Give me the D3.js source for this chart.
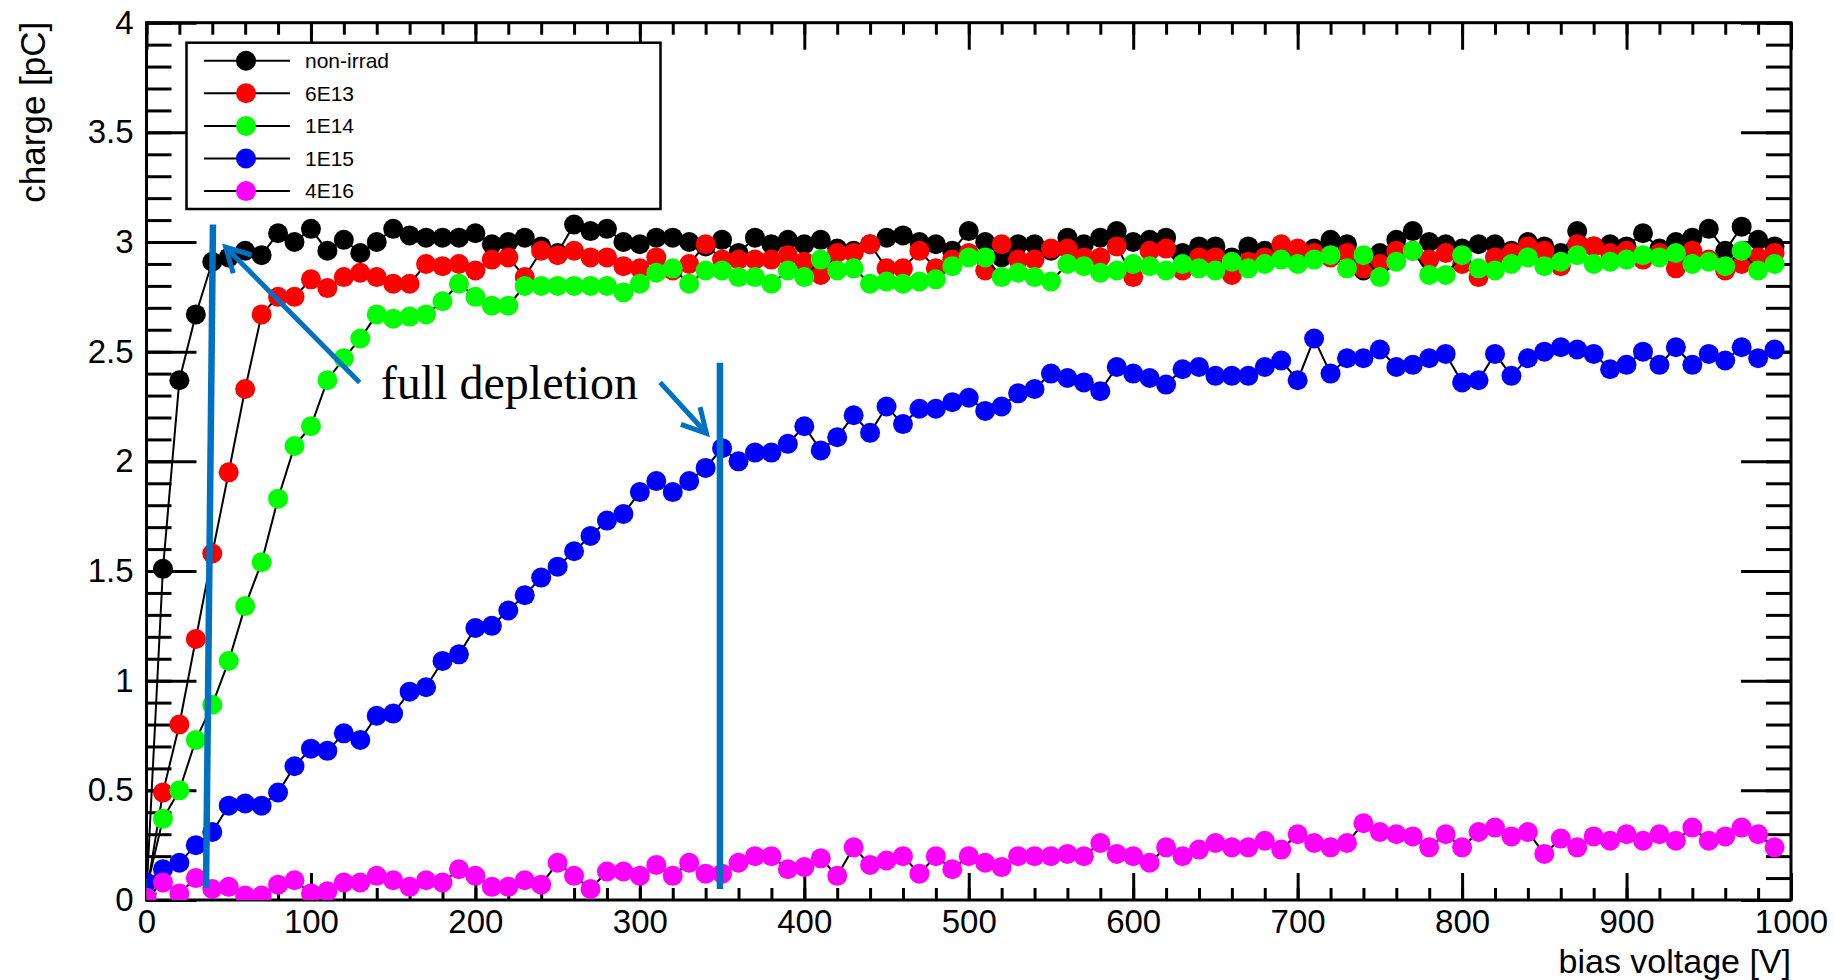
<!DOCTYPE html>
<html>
<head>
<meta charset="utf-8">
<script src="https://cdn.jsdelivr.net/npm/d3@7"></script>
<style>
  html, body { margin: 0; padding: 0; background: #fff; }
  svg { display: block; }
  .axis text { font-family: "Liberation Sans", Arial, sans-serif; font-size: 33px; fill: #000; }
  .title { font-family: "Liberation Sans", Arial, sans-serif; font-size: 35px; fill: #000; }
  .legend text { font-family: "Liberation Sans", Arial, sans-serif; font-size: 21px; fill: #000; }
</style>
</head>
<body>
<svg id="chart" width="1835" height="980"></svg>
<script>
// bias voltage [V] of every measurement
var voltage = [
  0, 10, 20, 30, 40, 50, 60, 70, 80, 90,
  100, 110, 120, 130, 140, 150, 160, 170, 180, 190,
  200, 210, 220, 230, 240, 250, 260, 270, 280, 290,
  300, 310, 320, 330, 340, 350, 360, 370, 380, 390,
  400, 410, 420, 430, 440, 450, 460, 470, 480, 490,
  500, 510, 520, 530, 540, 550, 560, 570, 580, 590,
  600, 610, 620, 630, 640, 650, 660, 670, 680, 690,
  700, 710, 720, 730, 740, 750, 760, 770, 780, 790,
  800, 810, 820, 830, 840, 850, 860, 870, 880, 890,
  900, 910, 920, 930, 940, 950, 960, 970, 980, 990
];

// collected charge [pC] per fluence
var nonIrrad = [
  0.03, 1.51, 2.37, 2.67, 2.91, 2.93, 2.96, 2.94, 3.04, 3.00,
  3.06, 2.96, 3.01, 2.95, 3.00, 3.06, 3.03, 3.02, 3.02, 3.02,
  3.04, 2.99, 3.00, 3.02, 2.98, 2.95, 3.08, 3.05, 3.06, 3.00,
  2.99, 3.02, 3.02, 3.00, 2.98, 3.01, 2.95, 3.02, 2.99, 3.01,
  2.99, 3.01, 2.97, 2.96, 2.99, 3.02, 3.03, 3.00, 2.99, 2.96,
  3.05, 3.00, 2.93, 2.99, 2.99, 2.96, 3.02, 2.99, 3.02, 3.05,
  3.00, 3.01, 3.02, 2.95, 2.98, 2.98, 2.93, 2.98, 2.96, 2.95,
  2.95, 2.97, 3.01, 2.99, 2.87, 2.95, 3.01, 3.05, 3.00, 2.99,
  2.97, 2.99, 2.99, 2.96, 3.00, 2.98, 2.95, 3.05, 2.98, 2.99,
  2.98, 3.04, 2.97, 3.00, 3.02, 3.06, 2.96, 3.07, 3.01, 2.98
];
var fluence6E13 = [
  0.03, 0.49, 0.80, 1.19, 1.58, 1.95, 2.33, 2.67, 2.75, 2.75,
  2.83, 2.79, 2.84, 2.86, 2.84, 2.81, 2.81, 2.90, 2.89, 2.90,
  2.87, 2.92, 2.93, 2.84, 2.96, 2.94, 2.96, 2.93, 2.93, 2.89,
  2.88, 2.93, 2.87, 2.90, 2.99, 2.92, 2.92, 2.92, 2.92, 2.94,
  2.91, 2.85, 2.95, 2.95, 2.99, 2.88, 2.88, 2.96, 2.88, 2.92,
  2.95, 2.87, 2.99, 2.92, 2.92, 2.97, 2.97, 2.93, 2.93, 2.98,
  2.84, 2.96, 2.97, 2.87, 2.93, 2.93, 2.85, 2.91, 2.93, 2.99,
  2.97, 2.95, 2.93, 2.95, 2.88, 2.90, 2.96, 2.96, 2.92, 2.95,
  2.90, 2.84, 2.93, 2.95, 2.98, 2.96, 2.89, 2.99, 2.98, 2.95,
  2.96, 2.92, 2.95, 2.88, 2.96, 2.92, 2.87, 2.90, 2.93, 2.95
];
var fluence1E14 = [
  0.05, 0.37, 0.50, 0.73, 0.89, 1.09, 1.34, 1.54, 1.83, 2.07,
  2.16, 2.37, 2.47, 2.56, 2.67, 2.65, 2.66, 2.67, 2.73, 2.81,
  2.75, 2.71, 2.71, 2.80, 2.80, 2.80, 2.80, 2.80, 2.80, 2.77,
  2.81, 2.86, 2.88, 2.81, 2.87, 2.87, 2.84, 2.84, 2.81, 2.87,
  2.84, 2.92, 2.87, 2.88, 2.81, 2.82, 2.81, 2.82, 2.83, 2.89,
  2.93, 2.93, 2.84, 2.86, 2.84, 2.82, 2.90, 2.89, 2.86, 2.87,
  2.90, 2.89, 2.87, 2.90, 2.88, 2.87, 2.91, 2.88, 2.90, 2.92,
  2.90, 2.92, 2.94, 2.88, 2.94, 2.84, 2.91, 2.96, 2.85, 2.85,
  2.94, 2.88, 2.87, 2.90, 2.93, 2.89, 2.91, 2.94, 2.90, 2.91,
  2.92, 2.94, 2.93, 2.95, 2.90, 2.91, 2.89, 2.96, 2.87, 2.90
];
var fluence1E15 = [
  0.08, 0.14, 0.17, 0.25, 0.31, 0.43, 0.44, 0.43, 0.49, 0.61,
  0.69, 0.68, 0.76, 0.73, 0.84, 0.85, 0.95, 0.97, 1.09, 1.12,
  1.24, 1.25, 1.32, 1.39, 1.47, 1.52, 1.59, 1.66, 1.73, 1.76,
  1.86, 1.91, 1.86, 1.91, 1.97, 2.06, 2.00, 2.04, 2.04, 2.08,
  2.16, 2.05, 2.11, 2.21, 2.13, 2.25, 2.17, 2.24, 2.24, 2.27,
  2.29, 2.23, 2.25, 2.31, 2.33, 2.40, 2.38, 2.36, 2.32, 2.43,
  2.40, 2.38, 2.35, 2.42, 2.43, 2.39, 2.39, 2.39, 2.43, 2.46,
  2.37, 2.56, 2.40, 2.47, 2.47, 2.51, 2.43, 2.44, 2.47, 2.49,
  2.36, 2.37, 2.49, 2.39, 2.47, 2.50, 2.52, 2.51, 2.49, 2.42,
  2.44, 2.50, 2.44, 2.52, 2.44, 2.49, 2.46, 2.52, 2.47, 2.51
];
var fluence4E16 = [
  0.01, 0.08, 0.03, 0.10, 0.05, 0.06, 0.02, 0.02, 0.07, 0.09,
  0.03, 0.04, 0.08, 0.08, 0.11, 0.09, 0.06, 0.09, 0.08, 0.14,
  0.11, 0.06, 0.06, 0.09, 0.07, 0.17, 0.11, 0.05, 0.13, 0.13,
  0.11, 0.16, 0.11, 0.17, 0.12, 0.12, 0.17, 0.20, 0.20, 0.14,
  0.15, 0.19, 0.11, 0.24, 0.16, 0.18, 0.20, 0.12, 0.20, 0.14,
  0.20, 0.17, 0.15, 0.20, 0.20, 0.20, 0.21, 0.20, 0.26, 0.21,
  0.20, 0.17, 0.24, 0.20, 0.23, 0.26, 0.24, 0.24, 0.27, 0.23,
  0.30, 0.26, 0.24, 0.26, 0.35, 0.31, 0.30, 0.29, 0.24, 0.30,
  0.24, 0.31, 0.33, 0.29, 0.31, 0.21, 0.28, 0.24, 0.29, 0.27,
  0.30, 0.27, 0.30, 0.27, 0.33, 0.27, 0.29, 0.33, 0.30, 0.24
];

var seriesNames = ['non-irrad', '6E13', '1E14', '1E15', '4E16'];
var seriesColors = ['#000000', '#ff0000', '#00ff00', '#0000ff', '#ff00ff'];

// axis ticks and labels
var xTicks = [0, 100, 200, 300, 400, 500, 600, 700, 800, 900, 1000];
var yTicks = [0, 0.5, 1, 1.5, 2, 2.5, 3, 3.5, 4];
var yTickLabels = ['0', '0.5', '1', '1.5', '2', '2.5', '3', '3.5', '4'];

(function() {
  'use strict';

  var frame = { left: 146.5, right: 1791, top: 22.7, bottom: 900 };
  var svg = d3.select('#chart');

  var x = d3.scaleLinear().domain([0, 1000]).range([frame.left, frame.right]);
  var y = d3.scaleLinear().domain([0, 4]).range([frame.bottom, frame.top]);

  var xMinor = d3.range(0, 1001, 20);
  var yMinor = d3.range(0, 4.001, 0.1);

  function styleAxis(g) {
    g.select('.domain').remove();
    g.attr('font-size', null).attr('font-family', null);
    g.selectAll('line').attr('stroke', '#000').attr('stroke-width', 3);
  }

  // --- Axes (ROOT style: ticks inside on all four sides) ---
  svg.append('g').attr('class', 'axis')
    .attr('transform', 'translate(0,' + frame.bottom + ')')
    .call(d3.axisBottom(x).tickValues(xMinor).tickSize(-12).tickFormat(''))
    .call(styleAxis);
  svg.append('g').attr('class', 'axis')
    .attr('transform', 'translate(0,' + frame.bottom + ')')
    .call(d3.axisBottom(x).tickValues(xTicks).tickSize(-27).tickPadding(10).tickFormat(d3.format('d')))
    .call(styleAxis);
  svg.append('g').attr('class', 'axis')
    .attr('transform', 'translate(0,' + frame.top + ')')
    .call(d3.axisTop(x).tickValues(xMinor).tickSize(-12).tickFormat(''))
    .call(styleAxis);
  svg.append('g').attr('class', 'axis')
    .attr('transform', 'translate(0,' + frame.top + ')')
    .call(d3.axisTop(x).tickValues(xTicks).tickSize(-27).tickFormat(''))
    .call(styleAxis);

  svg.append('g').attr('class', 'axis')
    .attr('transform', 'translate(' + frame.left + ',0)')
    .call(d3.axisLeft(y).tickValues(yMinor).tickSize(-25).tickFormat(''))
    .call(styleAxis);
  svg.append('g').attr('class', 'axis')
    .attr('transform', 'translate(' + frame.left + ',0)')
    .call(d3.axisLeft(y).tickValues(yTicks).tickSize(-50).tickPadding(13)
      .tickFormat(function(d, i) { return yTickLabels[i]; }))
    .call(styleAxis);
  svg.append('g').attr('class', 'axis')
    .attr('transform', 'translate(' + frame.right + ',0)')
    .call(d3.axisRight(y).tickValues(yMinor).tickSize(-25).tickFormat(''))
    .call(styleAxis);
  svg.append('g').attr('class', 'axis')
    .attr('transform', 'translate(' + frame.right + ',0)')
    .call(d3.axisRight(y).tickValues(yTicks).tickSize(-50).tickFormat(''))
    .call(styleAxis);

  svg.append('rect')
    .attr('x', frame.left).attr('y', frame.top)
    .attr('width', frame.right - frame.left).attr('height', frame.bottom - frame.top)
    .attr('fill', 'none').attr('stroke', '#000').attr('stroke-width', 3);

  // axis titles
  svg.append('text').attr('class', 'title')
    .attr('transform', 'translate(45,' + (frame.top - 1) + ') rotate(-90)')
    .attr('text-anchor', 'end')
    .text('charge [pC]');
  svg.append('text').attr('class', 'title')
    .attr('x', frame.right).attr('y', 973)
    .attr('text-anchor', 'end')
    .style('font-size', '34px')
    .text('bias voltage [V]');

  // --- Data ---
  svg.append('clipPath').attr('id', 'frame-clip')
    .append('rect')
    .attr('x', frame.left).attr('y', frame.top)
    .attr('width', frame.right - frame.left).attr('height', frame.bottom - frame.top);

  var plot = svg.append('g').attr('clip-path', 'url(#frame-clip)');
  var seriesValues = [nonIrrad, fluence6E13, fluence1E14, fluence1E15, fluence4E16];

  var line = d3.line()
    .x(function(d, i) { return x(voltage[i]); })
    .y(function(d) { return y(d); });

  seriesValues.forEach(function(values, k) {
    var g = plot.append('g');
    g.append('path')
      .datum(values)
      .attr('d', line)
      .attr('fill', 'none')
      .attr('stroke', '#000')
      .attr('stroke-width', 2);
    g.selectAll('circle')
      .data(values)
      .join('circle')
      .attr('cx', function(d, i) { return x(voltage[i]); })
      .attr('cy', function(d) { return y(d); })
      .attr('r', 10)
      .attr('fill', seriesColors[k]);
  });

  // --- Legend ---
  var legend = svg.append('g').attr('class', 'legend');
  legend.append('rect')
    .attr('x', 186.5).attr('y', 42.7).attr('width', 474).attr('height', 166.3)
    .attr('fill', '#fff').attr('stroke', '#000').attr('stroke-width', 2.5);
  seriesNames.forEach(function(name, k) {
    var cy = 60.7 + k * 32.6;
    legend.append('line')
      .attr('x1', 204).attr('x2', 290).attr('y1', cy).attr('y2', cy)
      .attr('stroke', '#000').attr('stroke-width', 2);
    legend.append('circle')
      .attr('cx', 246).attr('cy', cy).attr('r', 10)
      .attr('fill', seriesColors[k]);
    legend.append('text')
      .attr('x', 305).attr('y', cy + 7.3)
      .text(name);
  });

  // --- Annotations: full depletion markers ---
  var annoColor = '#0070c0';
  var depletionLines = [
    { v1: 40.4, q1: 3.08, v2: 36.2, q2: 0.055 },
    { v1: 348.7, q1: 2.45, v2: 348.7, q2: 0.05 }
  ];
  depletionLines.forEach(function(l) {
    svg.append('line')
      .attr('x1', x(l.v1)).attr('y1', y(l.q1))
      .attr('x2', x(l.v2)).attr('y2', y(l.q2))
      .attr('stroke', annoColor).attr('stroke-width', 6.5);
  });

  var arrows = [
    { v1: 129.6, q1: 2.36, v2: 48.2, q2: 2.976 },
    { v1: 312.3, q1: 2.36, v2: 340.5, q2: 2.128 }
  ];
  arrows.forEach(function(a) {
    var x1 = x(a.v1), y1 = y(a.q1), x2 = x(a.v2), y2 = y(a.q2);
    var ang = Math.atan2(y1 - y2, x1 - x2);
    var len = 27, spread = 0.5;
    svg.append('line')
      .attr('x1', x1).attr('y1', y1).attr('x2', x2).attr('y2', y2)
      .attr('stroke', annoColor).attr('stroke-width', 5);
    svg.append('path')
      .attr('d', 'M' + (x2 + len * Math.cos(ang - spread)) + ',' + (y2 + len * Math.sin(ang - spread)) +
        'L' + x2 + ',' + y2 +
        'L' + (x2 + len * Math.cos(ang + spread)) + ',' + (y2 + len * Math.sin(ang + spread)))
      .attr('fill', 'none').attr('stroke', annoColor).attr('stroke-width', 5)
      .attr('stroke-linejoin', 'miter');
  });

  svg.append('text')
    .attr('x', x(142.5)).attr('y', y(2.284))
    .style('font-family', '"Liberation Serif", "Times New Roman", serif')
    .style('font-size', '48px')
    .style('fill', '#000')
    .text('full depletion');
})();
</script>
</body>
</html>
